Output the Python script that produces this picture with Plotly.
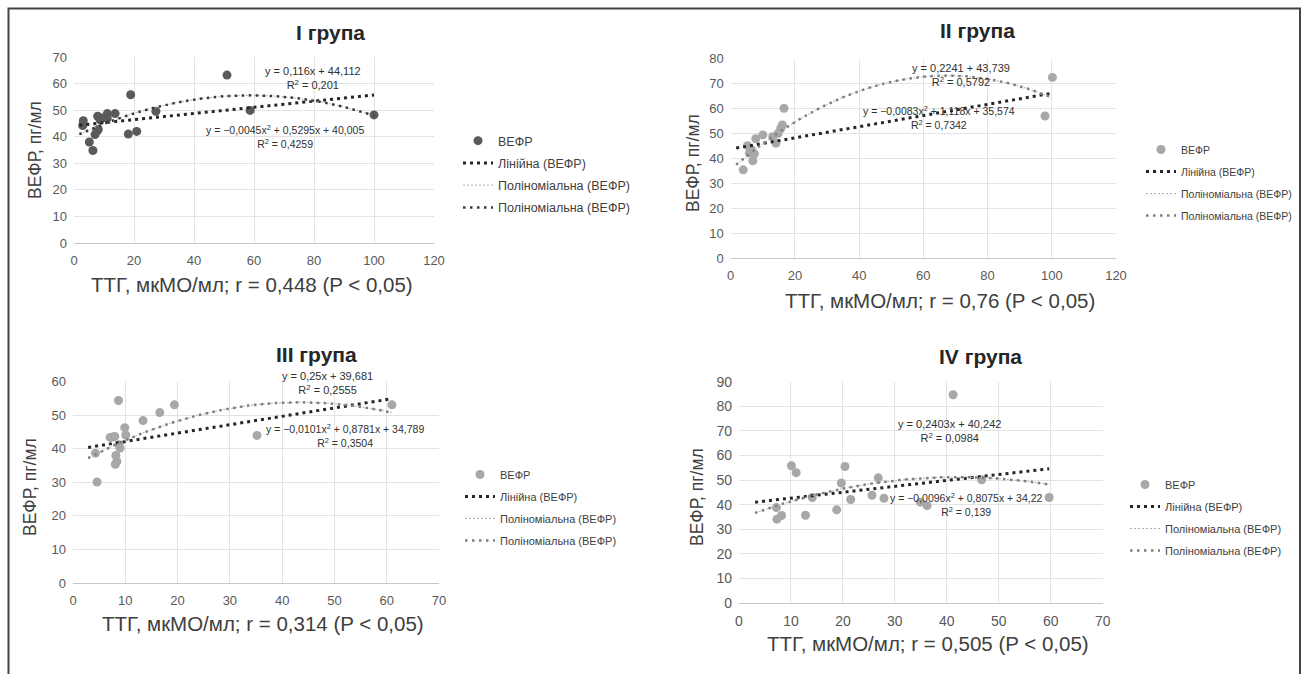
import numpy as np
import plotly.graph_objects as go

W, H = 1301, 674

# ---------------- data ----------------
g1_x = [3.1, 2.9, 5.1, 6.3, 7.0, 7.6, 7.9, 8.1, 8.7, 9.2, 11.1, 11.1, 13.7, 18.1, 18.9, 20.9, 27.3, 51.0, 58.7, 100.0]
g1_y = [46.0, 44.2, 38.0, 34.8, 40.8, 42.0, 47.7, 42.7, 46.4, 47.0, 48.7, 47.0, 48.7, 41.0, 55.8, 42.0, 49.6, 63.2, 49.9, 48.2]
g1_lin = [0.116, 44.112]
g1_poly = [-0.0045, 0.5295, 40.005]
g1_trend_span = [1.8, 100.0]

g2_x = [3.9, 5.2, 5.8, 6.5, 6.9, 7.4, 7.8, 10.0, 13.1, 14.1, 14.8, 15.6, 16.1, 16.6, 97.9, 100.2]
g2_y = [35.4, 45.1, 42.1, 43.4, 39.0, 41.8, 47.9, 49.4, 48.7, 46.1, 50.0, 52.0, 53.4, 60.1, 57.0, 72.5]
g2_lin = [0.2241, 43.739]
g2_poly = [-0.0083, 1.118, 35.574]
g2_trend_span = [1.7, 99.7]

g3_x = [4.3, 4.6, 7.1, 7.6, 8.0, 8.2, 8.1, 8.4, 8.7, 9.0, 8.8, 9.9, 10.1, 13.4, 16.6, 19.4, 35.2, 61.0]
g3_y = [38.7, 30.1, 43.4, 43.5, 43.7, 38.0, 35.4, 36.2, 54.4, 40.2, 41.2, 46.3, 44.1, 48.4, 50.8, 53.1, 44.0, 53.1]
g3_lin = [0.25, 39.681]
g3_poly = [-0.0101, 0.8781, 34.789]
g3_trend_span = [2.9, 61.0]

g4_x = [7.3, 7.2, 8.2, 10.1, 11.0, 12.8, 14.1, 18.8, 19.7, 20.4, 21.5, 25.6, 26.8, 27.9, 34.9, 36.2, 41.2, 46.7, 59.7]
g4_y = [34.1, 38.8, 35.6, 55.8, 53.0, 35.7, 42.9, 37.9, 48.8, 55.5, 42.1, 43.8, 50.9, 42.6, 41.0, 39.6, 84.7, 50.1, 42.9]
g4_lin = [0.2403, 40.242]
g4_poly = [-0.0096, 0.8075, 34.22]
g4_trend_span = [3.1, 59.7]

titles = ["I група", "II група", "III група", "IV група"]
y_title = "ВЕФР, пг/мл"
x_titles = ["ТТГ, мкМО/мл; r = 0,448 (P < 0,05)", "ТТГ, мкМО/мл; r = 0,76 (P < 0,05)",
            "ТТГ, мкМО/мл; r = 0,314 (P < 0,05)", "ТТГ, мкМО/мл; r = 0,505 (P < 0,05)"]
lin_eq = ["y = 0,116x + 44,112", "y = 0,2241 + 43,739", "y = 0,25x + 39,681", "y = 0,2403x + 40,242"]
lin_r2 = ["R<sup>2</sup> = 0,201", "R<sup>2</sup> = 0,5792", "R<sup>2</sup> = 0,2555", "R<sup>2</sup> = 0,0984"]
poly_eq = ["y = −0,0045x<sup>2</sup> + 0,5295x + 40,005", "y = −0,0083x<sup>2</sup> + 1,118x + 35,574",
           "y = −0,0101x<sup>2</sup> + 0,8781x + 34,789", "y = −0,0096x<sup>2</sup> + 0,8075x + 34,22"]
poly_r2 = ["R<sup>2</sup> = 0,4259", "R<sup>2</sup> = 0,7342", "R<sup>2</sup> = 0,3504", "R<sup>2</sup> = 0,139"]
series_name = "ВЕФР"
lin_name = "Лінійна (ВЕФР)"
poly_name = "Поліноміальна (ВЕФР)"

x_ranges = [[0, 120], [0, 120], [0, 70], [0, 70]]
y_ranges = [[0, 70], [0, 80], [0, 60], [0, 90]]
x_dticks = [20, 20, 10, 10]

# ---------------- layout helpers ----------------
def fx(px):
    return px / W

def fy(py):
    return 1 - py / H

panels = [
    dict(x=g1_x, y=g1_y, lin=g1_lin, poly=g1_poly, span=g1_trend_span,
         box=(74, 434, 57, 243), mcol="#5a5a5a", pdot="#3a3a3a",
         title=(330, 33), ytit=(35, 150), xtit=(252, 284),
         a_lin=(313, 70), a_poly=(285, 129), leg=(458, 126), tick=13, legfont=12.5),
    dict(x=g2_x, y=g2_y, lin=g2_lin, poly=g2_poly, span=g2_trend_span,
         box=(730.7, 1116, 58.7, 258), mcol="#a8a8a8", pdot="#7f7f7f",
         title=(977, 31), ytit=(693, 163), xtit=(940, 300),
         a_lin=(961, 67), a_poly=(939, 109), leg=(1141, 135), tick=13, legfont=10.5),
    dict(x=g3_x, y=g3_y, lin=g3_lin, poly=g3_poly, span=g3_trend_span,
         box=(73, 439, 381.7, 583), mcol="#a8a8a8", pdot="#7f7f7f",
         title=(316, 354), ytit=(30, 487), xtit=(263, 623),
         a_lin=(327, 375), a_poly=(345, 427), leg=(460, 460), tick=13, legfont=11),
    dict(x=g4_x, y=g4_y, lin=g4_lin, poly=g4_poly, span=g4_trend_span,
         box=(739, 1102.7, 381.7, 603), mcol="#a8a8a8", pdot="#7f7f7f",
         title=(980, 356), ytit=(697, 497), xtit=(928, 643),
         a_lin=(949, 423), a_poly=(966, 497), leg=(1125, 470), tick=14, legfont=11),
]

sans = "Liberation Sans, Arial"

fig = go.Figure()
annotations = []
layout_axes = {}


def note(text, px, py, size, color, angle=0):
    return dict(text=text, x=fx(px), y=fy(py), xref="paper", yref="paper", showarrow=False,
                xanchor="center", yanchor="middle", align="center", textangle=angle,
                font=dict(family=sans, size=size, color=color))


for i, p in enumerate(panels):
    k = "" if i == 0 else str(i + 1)
    xa, ya = "x" + k, "y" + k
    leg = "legend" if i == 0 else "legend" + str(i + 1)

    fig.add_trace(go.Scatter(x=p["x"], y=p["y"], mode="markers", name=series_name,
                             marker=dict(color=p["mcol"], size=9), xaxis=xa, yaxis=ya,
                             legend=leg, legendgroup="a" + k))
    tx = np.linspace(p["span"][0], p["span"][1], 300)
    fig.add_trace(go.Scatter(x=tx, y=np.polyval(p["lin"], tx), mode="lines", name=lin_name,
                             line=dict(color="#262626", width=3, dash="3px,4px"),
                             xaxis=xa, yaxis=ya, legend=leg, legendgroup="b" + k))
    fig.add_trace(go.Scatter(x=tx, y=np.polyval(p["poly"], tx), mode="lines", name=poly_name,
                             line=dict(color="#b0b0b0", width=1, dash="2px,2px"),
                             xaxis=xa, yaxis=ya, legend=leg, legendgroup="c" + k))
    fig.add_trace(go.Scatter(x=tx, y=np.polyval(p["poly"], tx), mode="lines", name=poly_name,
                             line=dict(color=p["pdot"], width=2.5, dash="2.5px,4.5px"),
                             xaxis=xa, yaxis=ya, legend=leg, legendgroup="d" + k))

    x0, x1, y0, y1 = p["box"]
    layout_axes["xaxis" + k] = dict(domain=[fx(x0), fx(x1)], range=x_ranges[i], dtick=x_dticks[i],
                                    showgrid=True, gridcolor="#e3e3e3", zeroline=False,
                                    showline=True, linecolor="#c8c8c8", ticks="", automargin=False,
                                    ticklabelstandoff=5,
                                    tickfont=dict(family=sans, size=p["tick"], color="#595959"),
                                    anchor=ya, fixedrange=True)
    layout_axes["yaxis" + k] = dict(domain=[fy(y1), fy(y0)], range=y_ranges[i], dtick=10,
                                    showgrid=True, gridcolor="#e3e3e3", zeroline=False,
                                    showline=False, ticks="", automargin=False,
                                    ticklabelstandoff=6,
                                    tickfont=dict(family=sans, size=p["tick"], color="#595959"),
                                    anchor=xa, fixedrange=True)
    layout_axes[leg] = dict(x=fx(p["leg"][0]), y=fy(p["leg"][1]), xanchor="left", yanchor="top",
                            bgcolor="rgba(0,0,0,0)", tracegroupgap=3,
                            font=dict(family=sans, size=p["legfont"], color="#404040"))

    annotations.append(note("<b>" + titles[i] + "</b>", p["title"][0], p["title"][1], 21, "#262626"))
    annotations.append(note(y_title, p["ytit"][0], p["ytit"][1], 17.5, "#404040", angle=-90))
    annotations.append(note(x_titles[i], p["xtit"][0], p["xtit"][1], 20.5, "#404040"))
    annotations.append(note(lin_eq[i] + "<br>" + lin_r2[i], p["a_lin"][0], p["a_lin"][1] + 8, 11, "#303030"))
    annotations.append(note(poly_eq[i] + "<br>" + poly_r2[i], p["a_poly"][0], p["a_poly"][1] + 8, 10.5, "#303030"))

fig.update_layout(**layout_axes)
fig.update_layout(
    width=W, height=H, margin=dict(l=0, r=0, t=0, b=0, autoexpand=False),
    paper_bgcolor="white", plot_bgcolor="white", showlegend=True,
    annotations=annotations,
    shapes=[dict(type="rect", xref="paper", yref="paper", x0=fx(8.5), x1=fx(1300), y0=fy(720), y1=fy(8.5),
                 line=dict(color="#444444", width=2), layer="below")],
)

fig.write_html("out.html", config={"displayModeBar": False},
               post_script="document.body.style.margin='0';document.body.style.overflow='hidden';")
